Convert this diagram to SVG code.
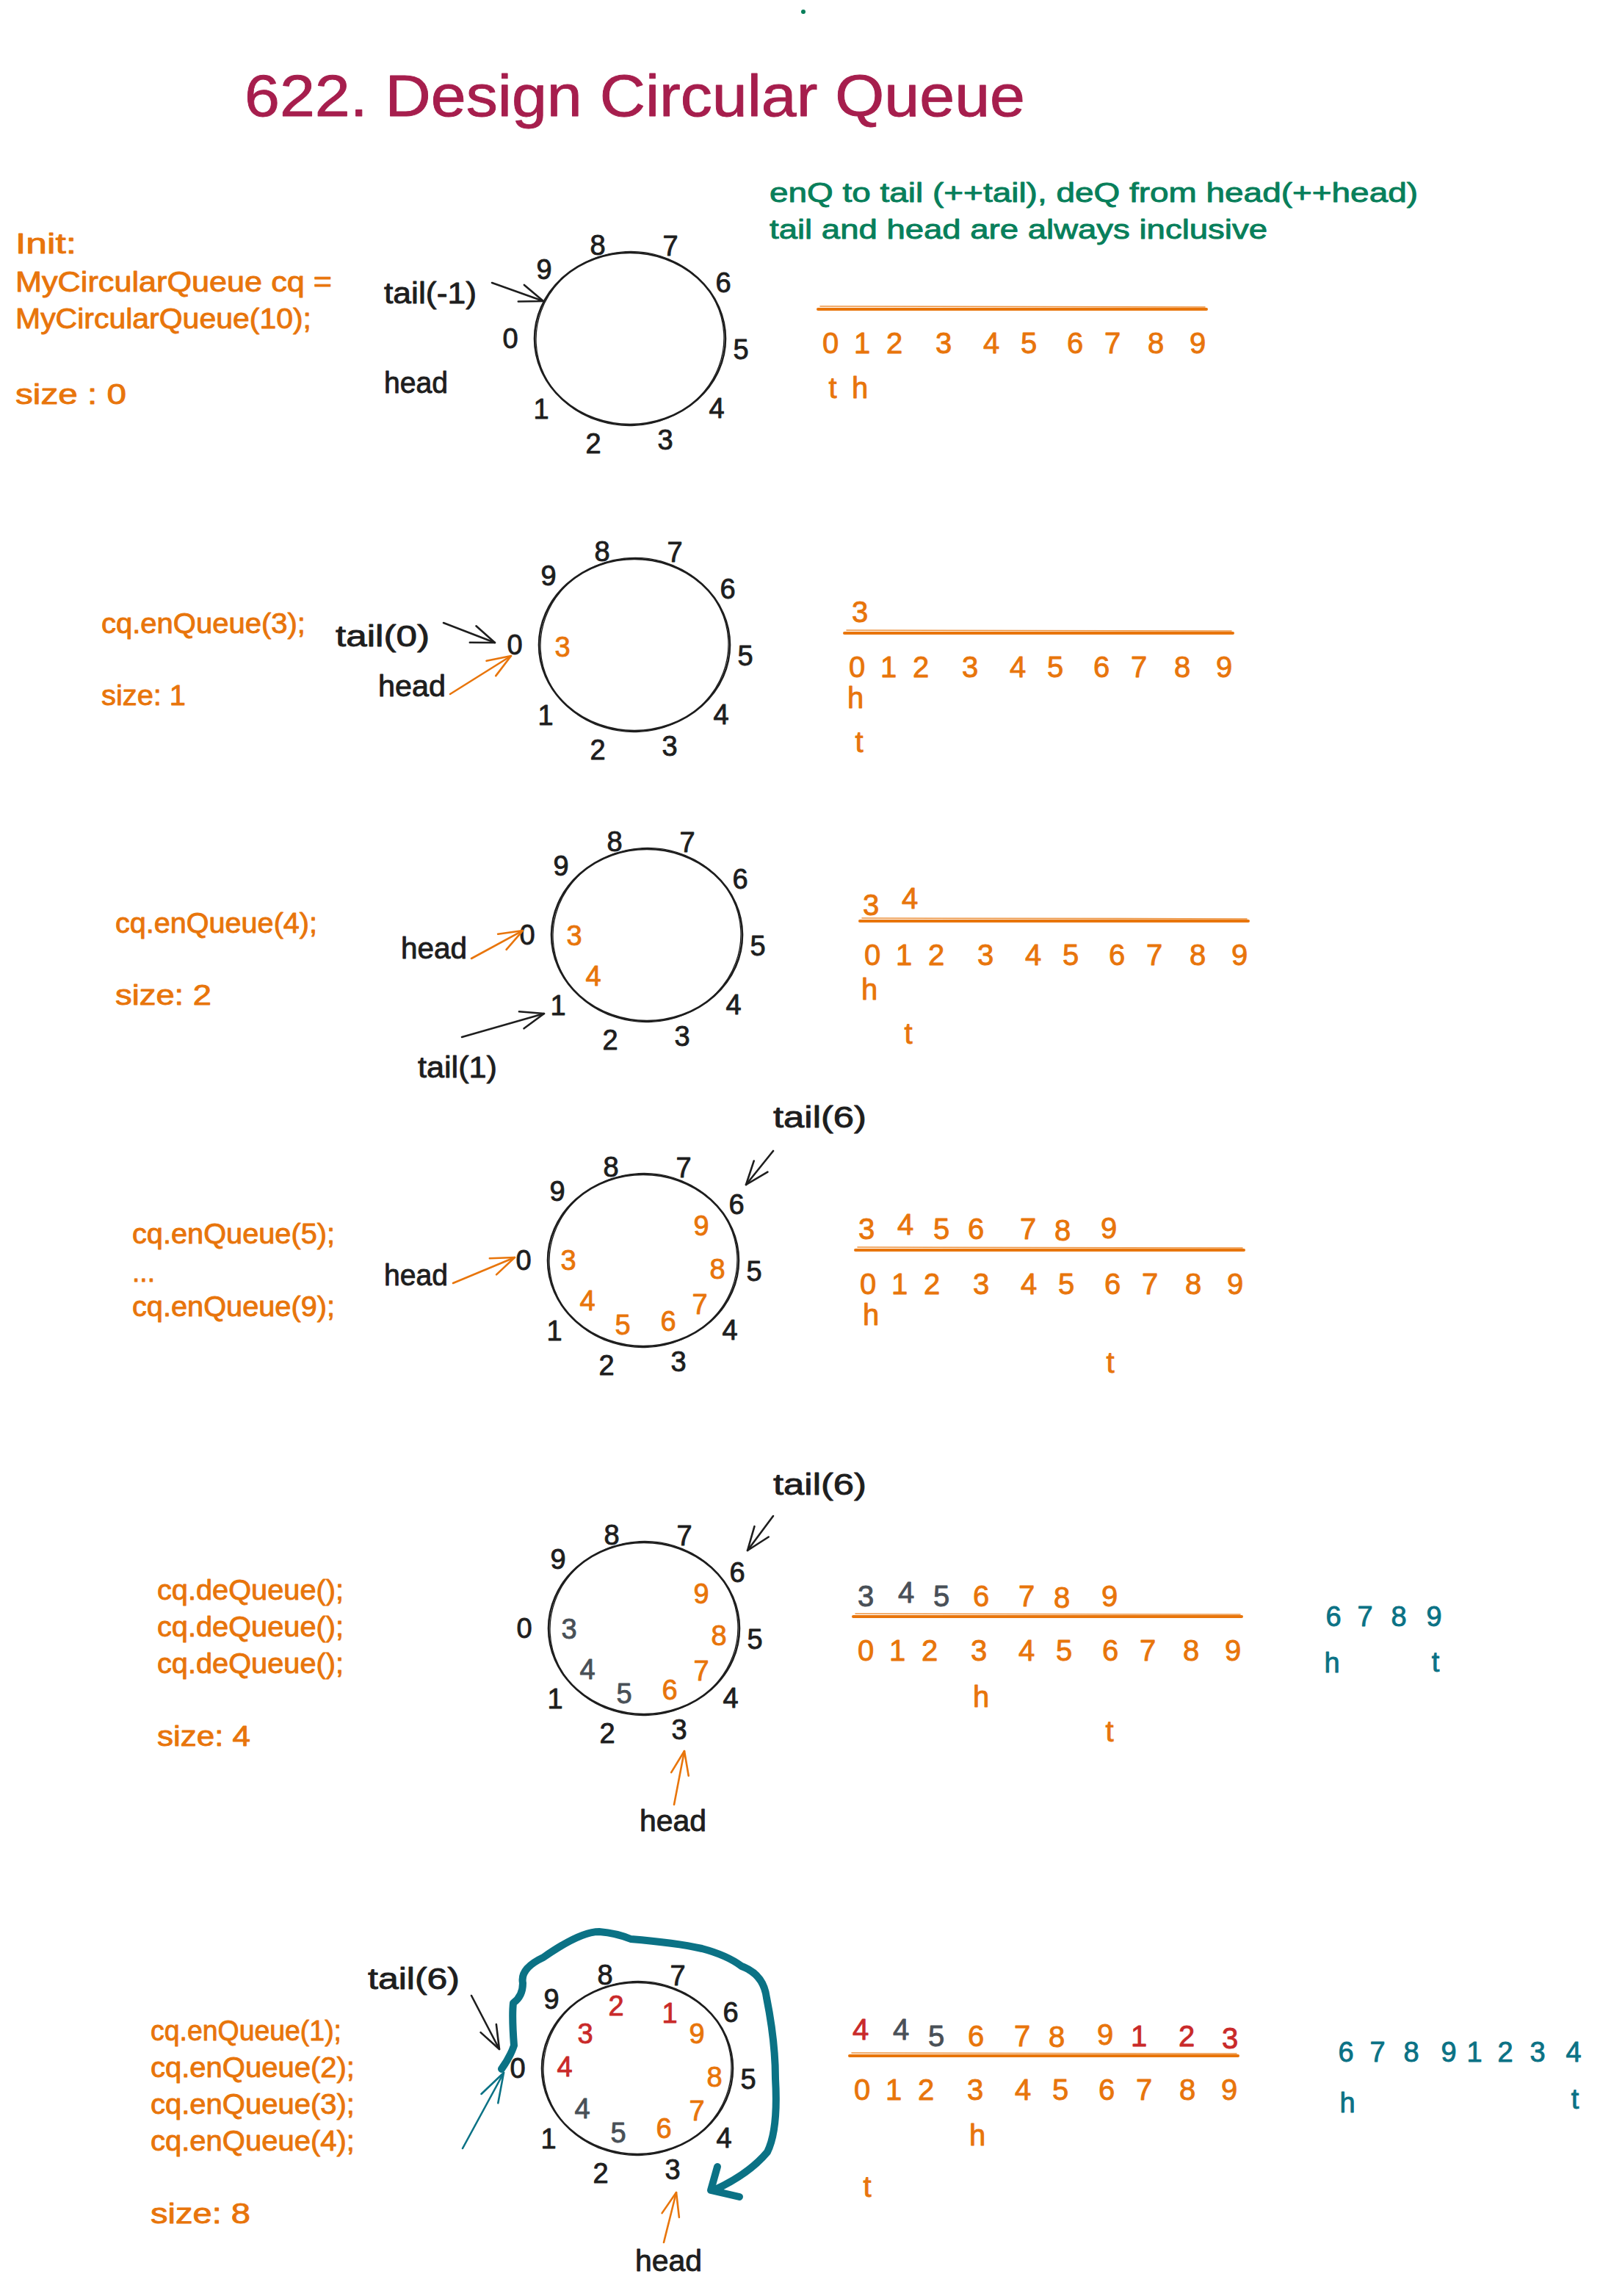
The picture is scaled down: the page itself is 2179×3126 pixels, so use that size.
<svg xmlns="http://www.w3.org/2000/svg" xmlns:xlink="http://www.w3.org/1999/xlink" width="2179" height="3126" viewBox="0 0 2179 3126">
<style>
text{font-family:"Liberation Sans",Arial,sans-serif;stroke-width:0.9;stroke-linejoin:round}
.o{fill:#e8750b;stroke:#e8750b}.k{fill:#1e1e1e;stroke:#1e1e1e}.g{fill:#495057;stroke:#495057}.r{fill:#c92a2a;stroke:#c92a2a}.t{fill:#0b7285;stroke:#0b7285}.gr{fill:#087f5b;stroke:#087f5b}
.c{text-anchor:middle;font-size:38px}
.a{text-anchor:middle;font-size:40px}
.code{font-size:38px}
.lab{font-size:40px;fill:#1e1e1e;stroke:#1e1e1e}
.rl{fill:none;stroke:#1e1e1e;stroke-width:2.6}
.rl2{fill:none;stroke:#1e1e1e;stroke-width:1.3}
.al{fill:none;stroke:#e8750b;stroke-width:4;stroke-linecap:round}
.al2{fill:none;stroke:#e8750b;stroke-width:1.6;stroke-linecap:round;opacity:.8}
.ak{fill:none;stroke:#1e1e1e;stroke-width:2.6;stroke-linecap:round}
.ao{fill:none;stroke:#e8750b;stroke-width:2.6;stroke-linecap:round}
.at{fill:none;stroke:#0b7285;stroke-width:2.6;stroke-linecap:round}
.big{fill:none;stroke:#0b7285;stroke-width:10;stroke-linecap:round;stroke-linejoin:round}
</style>
<defs>
<marker id="mk" markerUnits="userSpaceOnUse" markerWidth="40" markerHeight="40" viewBox="-35 -20 40 40" refX="0" refY="0" orient="auto" overflow="visible"><path d="M-32,-12 L0,0 L-32,12" fill="none" stroke="#1e1e1e" stroke-width="2.6" stroke-linecap="round" stroke-linejoin="round"/></marker>
<marker id="mo" markerUnits="userSpaceOnUse" markerWidth="40" markerHeight="40" viewBox="-35 -20 40 40" refX="0" refY="0" orient="auto" overflow="visible"><path d="M-32,-12 L0,0 L-32,12" fill="none" stroke="#e8750b" stroke-width="2.6" stroke-linecap="round" stroke-linejoin="round"/></marker>
<marker id="mt" markerUnits="userSpaceOnUse" markerWidth="50" markerHeight="50" viewBox="-45 -20 50 40" refX="0" refY="0" orient="auto" overflow="visible"><path d="M-40,-13 L0,0 L-40,13" fill="none" stroke="#0b7285" stroke-width="2.6" stroke-linecap="round" stroke-linejoin="round"/></marker>
<g id="ring">
<ellipse rx="130" ry="117" class="rl"/>
<ellipse rx="128" ry="118.5" class="rl2" transform="rotate(-3)"/>
<text class="c k" x="-117" y="-81">9</text>
<text class="c k" x="-44" y="-114">8</text>
<text class="c k" x="55" y="-113">7</text>
<text class="c k" x="127" y="-63">6</text>
<text class="c k" x="151" y="28">5</text>
<text class="c k" x="118" y="108">4</text>
<text class="c k" x="48" y="151">3</text>
<text class="c k" x="-50" y="156">2</text>
<text class="c k" x="-121" y="109">1</text>
<text class="c k" x="-163" y="13">0</text>
</g>
<g id="idx">
<path d="M-17,-46 L512,-46" class="al"/>
<path d="M-14,-50 L510,-49" class="al2"/>
<text class="a o" x="0" y="14">0</text>
<text class="a o" x="43" y="14">1</text>
<text class="a o" x="87" y="14">2</text>
<text class="a o" x="154" y="14">3</text>
<text class="a o" x="219" y="14">4</text>
<text class="a o" x="270" y="14">5</text>
<text class="a o" x="333" y="14">6</text>
<text class="a o" x="384" y="14">7</text>
<text class="a o" x="443" y="14">8</text>
<text class="a o" x="500" y="14">9</text>
</g>
</defs>
<rect width="2179" height="3126" fill="#ffffff"/>
<circle cx="1094" cy="16" r="3" fill="#087f5b"/>

<g id="title">
<text x="333" y="158" font-size="80" fill="#a61e4d" stroke="#a61e4d" stroke-width="2.5" textLength="1063" lengthAdjust="spacingAndGlyphs">622. Design Circular Queue</text>
</g>

<g id="note">
<text class="gr" x="1048" y="275" font-size="36" textLength="883" lengthAdjust="spacingAndGlyphs">enQ to tail (++tail), deQ from head(++head)</text>
<text class="gr" x="1048" y="325" font-size="36" textLength="678" lengthAdjust="spacingAndGlyphs">tail and head are always inclusive</text>
</g>

<g id="step-init">
<text class="o code" x="21" y="345" textLength="83" lengthAdjust="spacingAndGlyphs">Init:</text>
<text class="o code" x="21" y="397" textLength="431" lengthAdjust="spacingAndGlyphs">MyCircularQueue cq =</text>
<text class="o code" x="21" y="447" textLength="403" lengthAdjust="spacingAndGlyphs">MyCircularQueue(10);</text>
<text class="o code" x="21" y="550" textLength="151" lengthAdjust="spacingAndGlyphs">size : 0</text>
<text class="lab" x="523" y="413" textLength="126" lengthAdjust="spacingAndGlyphs">tail(-1)</text>
<text class="lab" x="523" y="535" textLength="87" lengthAdjust="spacingAndGlyphs">head</text>
<use xlink:href="#ring" href="#ring" x="858" y="461"/>
<use xlink:href="#idx" href="#idx" x="1131" y="467"/>
<text class="a o" x="1134" y="542">t</text>
<text class="a o" x="1171" y="542">h</text>
</g>

<g id="step-enq3">
<text class="o code" x="138" y="862" textLength="278" lengthAdjust="spacingAndGlyphs">cq.enQueue(3);</text>
<text class="o code" x="138" y="960" textLength="115" lengthAdjust="spacingAndGlyphs">size: 1</text>
<text class="lab" x="457" y="880" textLength="128" lengthAdjust="spacingAndGlyphs">tail(0)</text>
<text class="lab" x="515" y="948" textLength="92" lengthAdjust="spacingAndGlyphs">head</text>
<use xlink:href="#ring" href="#ring" x="864" y="878"/>
<text class="c o" x="766" y="894">3</text>
<use xlink:href="#idx" href="#idx" x="1167" y="908"/>
<text class="a o" x="1171" y="847">3</text>
<text class="a o" x="1165" y="964">h</text>
<text class="a o" x="1170" y="1024">t</text>
</g>

<g id="step-enq4">
<text class="o code" x="157" y="1270" textLength="275" lengthAdjust="spacingAndGlyphs">cq.enQueue(4);</text>
<text class="o code" x="157" y="1368" textLength="131" lengthAdjust="spacingAndGlyphs">size: 2</text>
<text class="lab" x="546" y="1305" textLength="90" lengthAdjust="spacingAndGlyphs">head</text>
<text class="lab" x="569" y="1467" textLength="108" lengthAdjust="spacingAndGlyphs">tail(1)</text>
<use xlink:href="#ring" href="#ring" x="881" y="1273"/>
<text class="c o" x="782" y="1287">3</text>
<text class="c o" x="808" y="1342">4</text>
<use xlink:href="#idx" href="#idx" x="1188" y="1300"/>
<text class="a o" x="1186" y="1246">3</text>
<text class="a o" x="1239" y="1237">4</text>
<text class="a o" x="1184" y="1361">h</text>
<text class="a o" x="1237" y="1421">t</text>
</g>

<g id="step-enq5-9">
<text class="o code" x="180" y="1693" textLength="276" lengthAdjust="spacingAndGlyphs">cq.enQueue(5);</text>
<text class="o code" x="180" y="1745" textLength="31" lengthAdjust="spacingAndGlyphs">...</text>
<text class="o code" x="180" y="1792" textLength="276" lengthAdjust="spacingAndGlyphs">cq.enQueue(9);</text>
<text class="lab" x="523" y="1750" textLength="87" lengthAdjust="spacingAndGlyphs">head</text>
<text class="lab" x="1053" y="1535" textLength="127" lengthAdjust="spacingAndGlyphs">tail(6)</text>
<use xlink:href="#ring" href="#ring" x="876" y="1716"/>
<text class="c o" x="774" y="1729">3</text>
<text class="c o" x="800" y="1784">4</text>
<text class="c o" x="848" y="1817">5</text>
<text class="c o" x="910" y="1812">6</text>
<text class="c o" x="953" y="1789">7</text>
<text class="c o" x="977" y="1741">8</text>
<text class="c o" x="955" y="1682">9</text>
<use xlink:href="#idx" href="#idx" x="1182" y="1748"/>
<text class="a o" x="1180" y="1687">3</text>
<text class="a o" x="1233" y="1681">4</text>
<text class="a o" x="1282" y="1687">5</text>
<text class="a o" x="1329" y="1687">6</text>
<text class="a o" x="1400" y="1687">7</text>
<text class="a o" x="1447" y="1689">8</text>
<text class="a o" x="1510" y="1686">9</text>
<text class="a o" x="1186" y="1804">h</text>
<text class="a o" x="1512" y="1869">t</text>
</g>

<g id="step-deq">
<text class="o code" x="214" y="2178" textLength="254" lengthAdjust="spacingAndGlyphs">cq.deQueue();</text>
<text class="o code" x="214" y="2228" textLength="254" lengthAdjust="spacingAndGlyphs">cq.deQueue();</text>
<text class="o code" x="214" y="2278" textLength="254" lengthAdjust="spacingAndGlyphs">cq.deQueue();</text>
<text class="o code" x="214" y="2377" textLength="127" lengthAdjust="spacingAndGlyphs">size: 4</text>
<text class="lab" x="1053" y="2035" textLength="127" lengthAdjust="spacingAndGlyphs">tail(6)</text>
<text class="lab" x="871" y="2493" textLength="91" lengthAdjust="spacingAndGlyphs">head</text>
<use xlink:href="#ring" href="#ring" x="877" y="2217"/>
<text class="c g" x="775" y="2231">3</text>
<text class="c g" x="800" y="2286">4</text>
<text class="c g" x="850" y="2319">5</text>
<text class="c o" x="912" y="2314">6</text>
<text class="c o" x="955" y="2288">7</text>
<text class="c o" x="979" y="2240">8</text>
<text class="c o" x="955" y="2183">9</text>
<use xlink:href="#idx" href="#idx" x="1179" y="2247"/>
<text class="a g" x="1179" y="2187">3</text>
<text class="a g" x="1234" y="2182">4</text>
<text class="a g" x="1282" y="2187">5</text>
<text class="a o" x="1336" y="2187">6</text>
<text class="a o" x="1398" y="2187">7</text>
<text class="a o" x="1446" y="2189">8</text>
<text class="a o" x="1511" y="2187">9</text>
<text class="a o" x="1336" y="2324">h</text>
<text class="a o" x="1511" y="2371">t</text>
<text class="c t" x="1816" y="2214">6</text>
<text class="c t" x="1859" y="2214">7</text>
<text class="c t" x="1905" y="2214">8</text>
<text class="c t" x="1953" y="2214">9</text>
<text class="c t" x="1814" y="2277">h</text>
<text class="c t" x="1955" y="2276">t</text>
</g>

<g id="step-enq1-4">
<text class="o code" x="205" y="2778" textLength="260" lengthAdjust="spacingAndGlyphs">cq.enQueue(1);</text>
<text class="o code" x="205" y="2828" textLength="278" lengthAdjust="spacingAndGlyphs">cq.enQueue(2);</text>
<text class="o code" x="205" y="2878" textLength="278" lengthAdjust="spacingAndGlyphs">cq.enQueue(3);</text>
<text class="o code" x="205" y="2928" textLength="278" lengthAdjust="spacingAndGlyphs">cq.enQueue(4);</text>
<text class="o code" x="205" y="3027" textLength="136" lengthAdjust="spacingAndGlyphs">size: 8</text>
<text class="lab" x="501" y="2708" textLength="125" lengthAdjust="spacingAndGlyphs">tail(6)</text>
<text class="lab" x="865" y="3092" textLength="91" lengthAdjust="spacingAndGlyphs">head</text>
<use xlink:href="#ring" href="#ring" x="868" y="2816"/>
<text class="c r" x="769" y="2827">4</text>
<text class="c r" x="797" y="2782">3</text>
<text class="c r" x="839" y="2744">2</text>
<text class="c r" x="912" y="2754">1</text>
<text class="c o" x="949" y="2782">9</text>
<text class="c o" x="973" y="2841">8</text>
<text class="c o" x="949" y="2887">7</text>
<text class="c o" x="904" y="2911">6</text>
<text class="c g" x="842" y="2917">5</text>
<text class="c g" x="793" y="2884">4</text>
<use xlink:href="#idx" href="#idx" x="1174" y="2845"/>
<text class="a r" x="1172" y="2777">4</text>
<text class="a g" x="1227" y="2777">4</text>
<text class="a g" x="1275" y="2786">5</text>
<text class="a o" x="1329" y="2786">6</text>
<text class="a o" x="1392" y="2786">7</text>
<text class="a o" x="1439" y="2787">8</text>
<text class="a o" x="1505" y="2784">9</text>
<text class="a r" x="1551" y="2786">1</text>
<text class="a r" x="1616" y="2786">2</text>
<text class="a r" x="1675" y="2789">3</text>
<text class="a o" x="1331" y="2921">h</text>
<text class="a o" x="1181" y="2991">t</text>
<text class="c t" x="1833" y="2807">6</text>
<text class="c t" x="1876" y="2807">7</text>
<text class="c t" x="1922" y="2807">8</text>
<text class="c t" x="1973" y="2807">9</text>
<text class="c t" x="2008" y="2807">1</text>
<text class="c t" x="2050" y="2807">2</text>
<text class="c t" x="2094" y="2807">3</text>
<text class="c t" x="2143" y="2807">4</text>
<text class="c t" x="1835" y="2876">h</text>
<text class="c t" x="2145" y="2871">t</text>
</g>

<g id="connectors">
<path d="M670,385 L740,410" class="ak" marker-end="url(#mk)"/>
<path d="M604,848 L674,875" class="ak" marker-end="url(#mk)"/>
<path d="M613,945 L696,893" class="ao" marker-end="url(#mo)"/>
<path d="M642,1305 L712,1267" class="ao" marker-end="url(#mo)"/>
<path d="M629,1412 L741,1380" class="ak" marker-end="url(#mk)"/>
<path d="M617,1747 L701,1712" class="ao" marker-end="url(#mo)"/>
<path d="M1053,1567 L1016,1613" class="ak" marker-end="url(#mk)"/>
<path d="M1053,2064 L1018,2111" class="ak" marker-end="url(#mk)"/>
<path d="M918,2457 L932,2384" class="ao" marker-end="url(#mo)"/>
<path d="M642,2717 L680,2790" class="ak" marker-end="url(#mk)"/>
<path d="M630,2925 L686,2822" class="at" marker-end="url(#mt)"/>
<path d="M904,3053 L921,2985" class="ao" marker-end="url(#mo)"/>
<path d="M683,2817 Q695,2800 700,2785 Q697,2745 699,2727 Q712,2718 712,2700 Q708,2680 740,2665 Q790,2630 816,2630 Q840,2632 859,2640 Q920,2645 956,2653 Q990,2662 1010,2677 Q1040,2688 1044,2720 Q1056,2780 1056,2830 Q1060,2900 1045,2930 Q1020,2960 972,2982" class="big"/>
<path d="M977,2950 L968,2982 L1007,2991" class="big"/>
</g>
</svg>
